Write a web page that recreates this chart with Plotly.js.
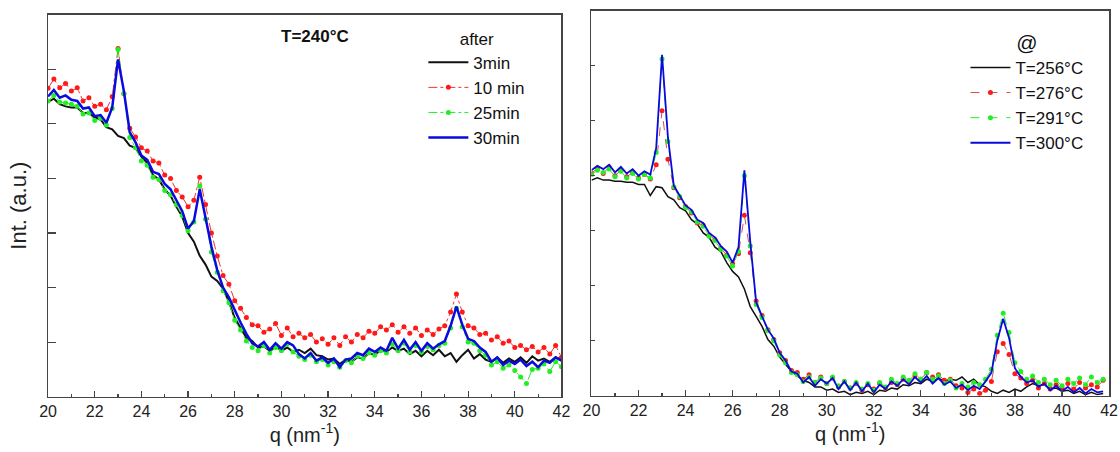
<!DOCTYPE html>
<html>
<head>
<meta charset="utf-8">
<script src="https://cdn.plot.ly/plotly-3.0.1.min.js"></script>
<style>html,body{margin:0;padding:0;background:#fff;}#chart{width:1120px;height:452px;}</style>
</head>
<body>
<div id="chart"></div>
<script>
// ---------- Left panel: T=240°C, after ... ----------
const qLeft = [20.00,20.25,20.50,20.75,21.00,21.25,21.50,21.75,22.00,22.25,22.50,22.75,23.00,23.25,23.50,23.75,24.00,24.25,24.50,24.75,25.00,25.25,25.50,25.75,26.00,26.25,26.50,26.75,27.00,27.25,27.50,27.75,28.00,28.25,28.50,28.75,29.00,29.25,29.50,29.75,30.00,30.25,30.50,30.75,31.00,31.25,31.50,31.75,32.00,32.25,32.50,32.75,33.00,33.25,33.50,33.75,34.00,34.25,34.50,34.75,35.00,35.25,35.50,35.75,36.00,36.25,36.50,36.75,37.00,37.25,37.50,37.75,38.00,38.25,38.50,38.75,39.00,39.25,39.50,39.75,40.00,40.25,40.50,40.75,41.00,41.25,41.50,41.75,42.00];

const left3min = [5.40,5.46,5.36,5.32,5.30,5.30,5.20,5.20,5.12,5.08,4.94,4.90,4.78,4.74,4.60,4.56,4.40,4.28,4.06,3.98,3.80,3.68,3.48,3.30,3.00,2.84,2.58,2.42,2.20,2.12,1.98,1.74,1.44,1.26,
  1.08,1.02,0.90,0.92,0.84,0.92,0.84,0.90,0.82,0.86,0.80,0.88,0.76,0.74,0.68,0.70,0.60,0.68,0.64,0.72,0.70,0.80,0.76,0.86,0.82,0.90,0.84,0.88,0.78,0.84,0.74,0.84,0.76,0.86,0.74,0.80,0.64,0.76,0.86,0.70,0.78,0.68,0.64,0.72,0.62,0.70,0.64,0.72,0.62,0.74,0.66,0.70,0.64,0.72,0.68];

const left10min = [5.65,5.82,5.66,5.74,5.60,5.66,5.42,5.48,5.32,5.36,5.26,5.50,6.38,5.55,4.92,4.76,4.56,4.50,4.32,4.28,4.06,4.00,3.78,3.66,3.48,3.60,4.02,3.52,3.00,2.58,2.22,2.06,1.76,1.62,
  1.45,1.32,1.30,1.18,1.24,1.34,1.12,1.26,1.10,1.16,1.08,1.14,1.00,1.06,0.96,1.08,0.94,1.10,1.00,1.14,1.08,1.20,1.16,1.28,1.22,1.32,1.18,1.28,1.16,1.26,1.12,1.22,1.14,1.24,1.30,1.55,1.88,1.55,1.30,1.26,1.14,1.16,1.04,1.10,0.98,1.02,0.90,0.94,0.86,0.92,0.82,0.90,0.78,0.94,0.72];

const left25min = [5.42,5.52,5.40,5.38,5.36,5.32,5.18,5.20,5.06,5.10,4.98,5.28,6.36,5.55,4.75,4.56,4.32,4.24,4.02,3.98,3.78,3.70,3.52,3.32,3.04,3.20,3.86,3.25,2.65,2.28,1.94,1.72,1.40,1.22,
  1.02,0.90,0.84,0.94,0.80,0.90,0.84,0.96,0.82,0.74,0.68,0.76,0.64,0.68,0.58,0.64,0.54,0.66,0.62,0.74,0.70,0.80,0.76,0.84,0.80,0.96,0.84,0.98,0.82,0.94,0.82,0.92,0.86,0.94,0.98,1.26,1.62,1.28,1.00,0.98,0.84,0.76,0.58,0.64,0.52,0.58,0.48,0.36,0.24,0.50,0.52,0.60,0.46,0.64,0.55];

const left30min = [5.50,5.62,5.48,5.52,5.44,5.42,5.28,5.30,5.14,5.16,5.02,5.30,6.18,5.60,4.85,4.66,4.42,4.34,4.12,4.08,3.90,3.80,3.60,3.40,3.08,3.22,3.80,3.30,2.75,2.32,2.00,1.82,1.58,1.36,
  1.15,0.98,0.92,1.00,0.86,0.98,0.88,1.00,0.94,0.78,0.70,0.80,0.66,0.72,0.62,0.70,0.54,0.68,0.70,0.80,0.76,0.88,0.82,0.90,0.84,1.08,0.88,1.04,0.86,1.00,0.84,0.98,0.88,0.96,1.02,1.30,1.65,1.32,1.06,1.02,0.90,0.82,0.64,0.72,0.58,0.66,0.60,0.68,0.56,0.64,0.54,0.66,0.62,0.72,0.66];

// ---------- Right panel: @ T=... ----------
const qRight = [20.00,20.25,20.50,20.75,21.00,21.25,21.50,21.75,22.00,22.25,22.50,22.75,23.00,23.25,23.50,23.75,24.00,24.25,24.50,24.75,25.00,25.25,25.50,25.75,26.00,26.25,26.50,26.75,27.00,27.25,27.50,27.75,28.00,28.25,28.50,28.75,29.00,29.25,29.50,29.75,30.00,30.25,30.50,30.75,31.00,31.25,31.50,31.75,32.00,32.25,32.50,32.75,33.00,33.25,33.50,33.75,34.00,34.25,34.50,34.75,35.00,35.25,35.50,35.75,36.00,36.25,36.50,36.75,37.00,37.25,37.50,37.75,38.00,38.25,38.50,38.75,39.00,39.25,39.50,39.75,40.00,40.25,40.50,40.75,41.00,41.25,41.50,41.75];

const rightT256 = [3.92,3.96,3.92,3.92,3.90,3.90,3.88,3.88,3.84,3.84,3.64,3.80,3.78,3.62,3.56,3.42,3.36,3.20,3.12,2.96,2.88,2.70,2.62,2.42,2.26,2.16,1.94,1.62,1.44,1.26,1.02,0.90,0.70,0.58,
  0.44,0.36,0.28,0.24,0.16,0.16,0.10,0.12,0.06,0.08,0.02,0.06,0.04,0.08,0.02,0.10,0.08,0.14,0.12,0.20,0.18,0.24,0.22,0.30,0.26,0.32,0.26,0.30,0.28,0.34,0.24,0.30,0.20,0.16,0.08,0.04,0.10,0.06,0.12,0.08,0.16,0.22,0.18,0.20,0.12,0.14,0.08,0.10,0.04,0.08,0.02,0.06,0.02,0.04];

const rightT276 = [4.04,4.14,4.04,4.16,4.00,4.10,3.98,4.06,3.96,4.02,3.94,4.20,5.18,4.30,3.78,3.60,3.44,3.32,3.14,3.10,2.92,2.84,2.68,2.56,2.40,2.58,3.28,2.60,1.72,1.46,1.20,1.02,0.78,0.64,
  0.46,0.42,0.30,0.38,0.24,0.34,0.22,0.32,0.16,0.26,0.14,0.22,0.10,0.20,0.12,0.22,0.14,0.24,0.20,0.30,0.26,0.36,0.30,0.42,0.34,0.38,0.28,0.30,0.18,0.14,0.06,0.12,0.04,0.10,0.26,0.80,0.95,0.75,0.40,0.32,0.22,0.28,0.14,0.22,0.12,0.20,0.14,0.22,0.12,0.24,0.14,0.20,0.16,0.28];

const rightT291 = [4.02,4.10,4.06,4.12,3.98,4.08,3.96,4.04,3.94,4.02,3.96,4.42,6.12,4.62,3.80,3.62,3.42,3.34,3.16,3.08,2.90,2.82,2.66,2.54,2.36,2.62,4.00,2.72,1.66,1.42,1.18,1.00,0.74,0.60,
  0.42,0.38,0.26,0.34,0.24,0.32,0.22,0.34,0.18,0.26,0.14,0.24,0.12,0.22,0.10,0.24,0.16,0.30,0.22,0.34,0.28,0.40,0.30,0.42,0.30,0.36,0.22,0.28,0.14,0.22,0.16,0.24,0.20,0.30,0.48,1.10,1.50,1.15,0.60,0.44,0.30,0.36,0.24,0.30,0.20,0.28,0.18,0.30,0.22,0.32,0.20,0.34,0.24,0.30];

const rightT300 = [4.10,4.18,4.12,4.20,4.06,4.16,4.04,4.12,4.00,4.08,4.02,4.50,6.20,4.70,3.82,3.64,3.46,3.38,3.20,3.14,2.96,2.88,2.72,2.62,2.42,2.70,4.10,2.80,1.70,1.44,1.20,1.04,0.78,0.64,
  0.44,0.40,0.24,0.34,0.18,0.30,0.22,0.32,0.12,0.26,0.10,0.24,0.08,0.22,0.06,0.20,0.12,0.26,0.18,0.30,0.20,0.34,0.24,0.36,0.22,0.32,0.20,0.26,0.14,0.20,0.10,0.18,0.12,0.26,0.42,1.00,1.40,1.05,0.50,0.34,0.24,0.28,0.16,0.22,0.10,0.18,0.08,0.16,0.06,0.14,0.04,0.12,0.06,0.08];

const xTickVals = [20,22,24,26,28,30,32,34,36,38,40,42];
const leftNames = ["3min","10 min","25min","30min"];
const rightNames = ["T=256°C","T=276°C","T=291°C","T=300°C"];

const FONT = "Liberation Sans, Arial, sans-serif";
const RED = "#ff1a1a", GREEN = "#22ee22", BLUE = "#0a0ae0", BLACK = "#111111";

const traces = [
  {x:qLeft, y:left3min, name:leftNames[0], mode:"lines", line:{color:BLACK,width:2}, xaxis:"x", yaxis:"y", legend:"legend"},
  {x:qLeft, y:left10min, name:leftNames[1], mode:"lines+markers", line:{color:"#e33",width:1,dash:"dashdot"}, marker:{color:RED,size:5}, xaxis:"x", yaxis:"y", legend:"legend"},
  {x:qLeft, y:left25min, name:leftNames[2], mode:"lines+markers", line:{color:GREEN,width:1,dash:"dashdot"}, marker:{color:GREEN,size:5}, xaxis:"x", yaxis:"y", legend:"legend"},
  {x:qLeft, y:left30min, name:leftNames[3], mode:"lines", line:{color:BLUE,width:2.5}, xaxis:"x", yaxis:"y", legend:"legend"},
  {x:qRight, y:rightT256, name:rightNames[0], mode:"lines", line:{color:BLACK,width:1.5}, xaxis:"x2", yaxis:"y2", legend:"legend2"},
  {x:qRight, y:rightT276, name:rightNames[1], mode:"lines+markers", line:{color:"#d05050",width:1,dash:"dash"}, marker:{color:RED,size:5}, xaxis:"x2", yaxis:"y2", legend:"legend2"},
  {x:qRight, y:rightT291, name:rightNames[2], mode:"lines+markers", line:{color:GREEN,width:1,dash:"dash"}, marker:{color:GREEN,size:5}, xaxis:"x2", yaxis:"y2", legend:"legend2"},
  {x:qRight, y:rightT300, name:rightNames[3], mode:"lines", line:{color:BLUE,width:1.8}, xaxis:"x2", yaxis:"y2", legend:"legend2"}
];

const axisCommon = {
  showline:true, mirror:true, linecolor:"#444", linewidth:1.5,
  showgrid:false, zeroline:false
};
const xCommon = Object.assign({}, axisCommon, {
  range:[20,42], tickvals:xTickVals, ticks:"inside", ticklen:6, tickwidth:1.2, tickcolor:"#444",
  minor:{dtick:1, tick0:20, ticks:"inside", ticklen:3, tickwidth:1.2, tickcolor:"#444"},
  tickfont:{family:FONT,size:16,color:"#222"},
  title:{text:"q (nm<sup>-1</sup>)", font:{family:FONT,size:20,color:"#222"}, standoff:8}
});

const layout = {
  width:1120, height:452,
  margin:{l:0,r:0,t:0,b:0},
  paper_bgcolor:"#fff", plot_bgcolor:"#fff",
  showlegend:true,
  xaxis:Object.assign({}, xCommon, {domain:[0.0429,0.5013], anchor:"y"}),
  yaxis:Object.assign({}, axisCommon, {domain:[0.1224,0.9675], anchor:"x", range:[0,7], dtick:1, tick0:0,
    ticks:"inside", ticklen:8, tickwidth:1.2, tickcolor:"#444", showticklabels:false,
    title:{text:"Int. (a.u.)", font:{family:FONT,size:22,color:"#222"}, standoff:14}}),
  xaxis2:Object.assign({}, xCommon, {domain:[0.5281,0.9902], anchor:"y2"}),
  yaxis2:Object.assign({}, axisCommon, {domain:[0.1246,0.9763], anchor:"x2", range:[0,7], dtick:1, tick0:0,
    ticks:"inside", ticklen:4, tickwidth:1.2, tickcolor:"#444", showticklabels:false}),
  legend:{x:0.378, y:0.95, xanchor:"left", yanchor:"top", bgcolor:"rgba(0,0,0,0)", borderwidth:0,
    font:{family:FONT,size:17,color:"#111"}, itemwidth:40, tracegroupgap:0,
    title:{text:"after", side:"top center", font:{family:FONT,size:17,color:"#111"}}},
  legend2:{x:0.862, y:0.95, xanchor:"left", yanchor:"top", bgcolor:"rgba(0,0,0,0)", borderwidth:0,
    font:{family:FONT,size:17,color:"#111"}, itemwidth:40, tracegroupgap:0,
    title:{text:"@", side:"top center", font:{family:FONT,size:21,color:"#111"}}},
  annotations:[
    {text:"<b>T=240°C</b>", xref:"paper", yref:"paper", x:315/1120, y:1-36/452, xanchor:"center", yanchor:"middle",
     showarrow:false, font:{family:FONT,size:17,color:"#111"}}
  ]
};

Plotly.newPlot("chart", traces, layout, {staticPlot:true, displayModeBar:false});
</script>
</body>
</html>
